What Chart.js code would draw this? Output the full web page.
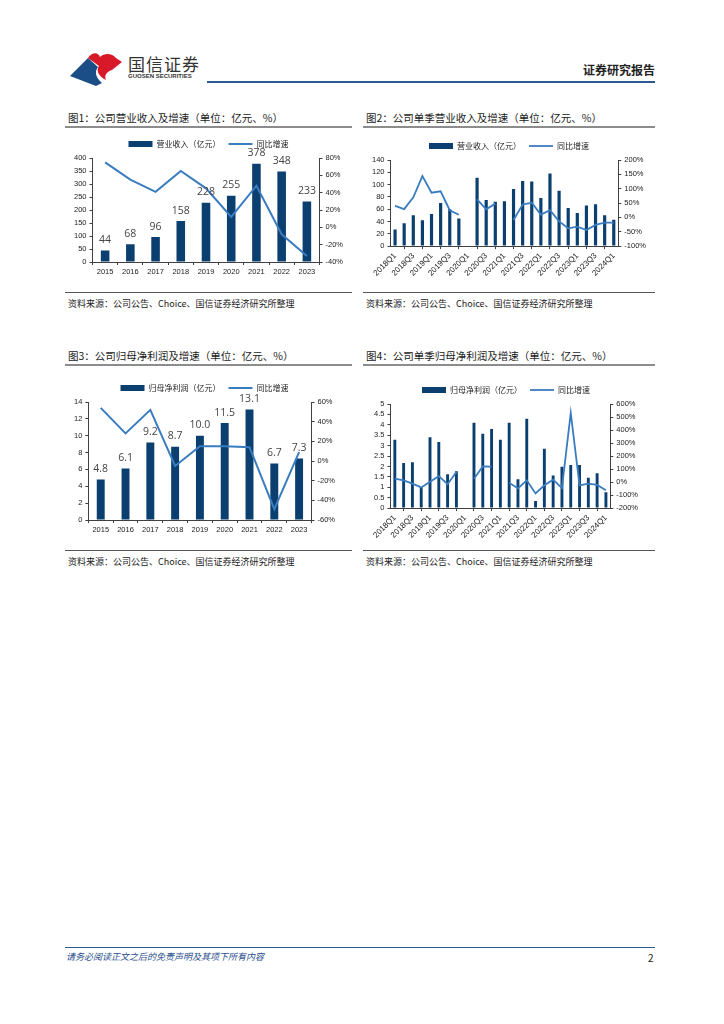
<!DOCTYPE html>
<html><head><meta charset="utf-8">
<script src="https://cdn.jsdelivr.net/npm/chart.js@4/dist/chart.umd.min.js"></script>
<style>
html,body{margin:0;padding:0;background:#fff;}
body{width:724px;height:1024px;position:relative;overflow:hidden;font-family:"Noto Sans CJK SC","Noto Sans",sans-serif;color:#222;}
.abs{position:absolute;}
.title{font-size:10.5px;white-space:nowrap;color:#1a1a1a;}
.uline{height:2px;background:#8c8c8c;}
.bline{height:1px;background:#555;}
.src{font-size:9px;white-space:nowrap;color:#222;}
canvas{position:absolute;}
</style></head><body>
<!-- header -->
<svg class="abs" style="left:68px;top:50px" width="60" height="36" viewBox="0 0 60 36">
  <path d="M2 26 L20 8 L30 17 C26 22 28 28 34 33 L28 36 Z" fill="#1b4e86"/>
  <path d="M20 8 C24 2 30 2 32 7 C36 3 44 3 48 8 L54 12 L44 20 C38 22 36 26 38 30 C30 26 28 20 31 16 Z" fill="#d7192a"/>
</svg>
<div class="abs" style="left:128px;top:51px;font-size:17px;letter-spacing:1px;color:#333;">国信证券</div>
<div class="abs" style="left:128px;top:73px;font-size:6px;color:#333;font-family:'Liberation Sans',sans-serif;font-weight:bold;">GUOSEN SECURITIES</div>
<div class="abs" style="left:207px;top:81px;width:448px;height:2px;background:#2b5a92;"></div>
<div class="abs" style="right:69px;top:61px;font-size:12px;font-weight:bold;color:#222;">证券研究报告</div>

<!-- panel titles -->
<div class="abs title" style="left:68px;top:110px;">图1：公司营业收入及增速（单位：亿元、%）</div>
<div class="abs uline" style="left:65px;top:126px;width:287px;"></div>
<div class="abs title" style="left:366px;top:110px;">图2：公司单季营业收入及增速（单位：亿元、%）</div>
<div class="abs uline" style="left:363px;top:126px;width:292px;"></div>
<div class="abs bline" style="left:65px;top:292px;width:287px;"></div>
<div class="abs bline" style="left:363px;top:292px;width:292px;"></div>
<div class="abs src" style="left:68px;top:297px;">资料来源：公司公告、Choice、国信证券经济研究所整理</div>
<div class="abs src" style="left:366px;top:297px;">资料来源：公司公告、Choice、国信证券经济研究所整理</div>

<div class="abs title" style="left:68px;top:348px;">图3：公司归母净利润及增速（单位：亿元、%）</div>
<div class="abs uline" style="left:65px;top:364px;width:287px;"></div>
<div class="abs title" style="left:366px;top:348px;">图4：公司单季归母净利润及增速（单位：亿元、%）</div>
<div class="abs uline" style="left:363px;top:364px;width:292px;"></div>
<div class="abs bline" style="left:65px;top:550px;width:287px;"></div>
<div class="abs bline" style="left:363px;top:550px;width:292px;"></div>
<div class="abs src" style="left:68px;top:555px;">资料来源：公司公告、Choice、国信证券经济研究所整理</div>
<div class="abs src" style="left:366px;top:555px;">资料来源：公司公告、Choice、国信证券经济研究所整理</div>

<!-- footer -->
<div class="abs" style="left:65px;top:947px;width:590px;height:1px;background:#2b5a92;"></div>
<div class="abs" style="left:66px;top:950px;font-size:9px;font-style:italic;color:#2b4f8c;">请务必阅读正文之后的免责声明及其项下所有内容</div>
<div class="abs" style="left:648px;top:950px;font-size:10px;color:#222;">2</div>

<canvas id="c1" style="left:65px;top:132px;width:287px;height:146px;" width="287" height="146"></canvas>
<canvas id="c2" style="left:363px;top:132px;width:292px;height:148px;" width="292" height="148"></canvas>
<canvas id="c3" style="left:65px;top:372px;width:287px;height:164px;" width="287" height="164"></canvas>
<canvas id="c4" style="left:363px;top:372px;width:292px;height:170px;" width="292" height="170"></canvas>

<script>
// ---- data ----
const years = ['2015','2016','2017','2018','2019','2020','2021','2022','2023'];
const revenue = [44, 68, 96, 158, 228, 255, 378, 348, 233];
const revenueYoY = [75, 55, 41, 65, 45, 12, 48, -8, -33];

const quarters = ['2018Q1','2018Q2','2018Q3','2018Q4','2019Q1','2019Q2','2019Q3','2019Q4',
  '2020Q1','2020Q2','2020Q3','2020Q4','2021Q1','2021Q2','2021Q3','2021Q4',
  '2022Q1','2022Q2','2022Q3','2022Q4','2023Q1','2023Q2','2023Q3','2023Q4','2024Q1'];
const qRevenue = [27, 37, 50, 42, 52, 70, 60, 45, null, 111, 75, 72, 73, 93, 106, 105, 78, 118, 90, 62, 54, 66, 68, 50, 43];
const qRevenueYoY = [40, 29, 70, 144, 86, 91, 25, 9, null, 63, 28, 48, null, -9, 45, 51, 10, 25, -14, -38, -32, -44, -26, -18, -18];

const netProfit = [4.8, 6.1, 9.2, 8.7, 10.0, 11.5, 13.1, 6.7, 7.3];
const netProfitYoY = [54, 28, 52, -5, 15, 15, 14, -49, 9];

const qProfit = [3.28, 2.17, 2.2, 1.0, 3.4, 3.18, 1.62, 1.77, null, 4.1, 3.57, 3.8, 3.28, 4.1, 1.38, 4.29, 0.34, 2.85, 1.57, 1.99, 2.07, 2.07, 1.46, 1.67, 0.76];
const qProfitYoY = [26, 13, -12, -41, 2, 45, -17, 77, null, 26, 120, 118, null, -6, -49, 13, -87, -25, 18, -47, 532, -25, -12, -22, -63];

// ---- style ----
const BAR = '#0b3f70';
const LINE = '#3a7cc0';
const TICKFONT = {family: "'Liberation Sans', 'DejaVu Sans', sans-serif", size: 7.5};
const ROTFONT = {family: "'Liberation Sans', 'DejaVu Sans', sans-serif", size: 8};
const AXIS = '#404040';

const valueLabels = {
  id: 'valueLabels',
  afterDatasetsDraw(chart, args, opts) {
    if (!opts.enabled) return;
    const ctx = chart.ctx;
    const meta = chart.getDatasetMeta(0);
    const data = chart.data.datasets[0].data;
    ctx.save();
    ctx.fillStyle = '#444';
    ctx.font = "10.5px 'Open Sans', 'DejaVu Sans', sans-serif";
    ctx.textAlign = 'center';
    ctx.textBaseline = 'bottom';
    meta.data.forEach((el, i) => {
      if (data[i] == null) return;
      ctx.fillText(opts.fmt(data[i]), el.x, el.y - 5);
    });
    ctx.restore();
  }
};

function makeChart(id, labels, bars, line, barName, left, right, opts) {
  const xTicks = {font: TICKFONT, color: '#222', autoSkip: false, padding: 2};
  if (opts.rotate) {
    xTicks.font = ROTFONT;
    xTicks.maxRotation = 45; xTicks.minRotation = 45;
    xTicks.callback = function(v, i) { return i % 2 === 0 ? this.getLabelForValue(v) : null; };
  } else {
    xTicks.maxRotation = 0;
  }
  return new Chart(document.getElementById(id), {
    data: {
      labels: labels,
      datasets: [
        {type: 'bar', label: barName, data: bars, backgroundColor: BAR, borderWidth: 0,
         barPercentage: opts.barPct, categoryPercentage: 1, yAxisID: 'y', order: 2, pointStyle: 'rect'},
        {type: 'line', label: '同比增速', data: line, borderColor: LINE, backgroundColor: LINE,
         borderWidth: opts.lw || 1.8, pointRadius: 0, tension: 0, spanGaps: false,
         yAxisID: 'y1', order: 1, pointStyle: 'line'}
      ]
    },
    options: {
      responsive: false, animation: false, devicePixelRatio: 1,
      layout: {padding: opts.padding},
      plugins: {
        legend: {position: 'top', labels: {usePointStyle: true, pointStyleWidth: 24, boxHeight: 6,
          font: {family: "'Noto Sans CJK SC', sans-serif", size: 8}, color: '#222', padding: 8,
          sort: (a, b) => a.datasetIndex - b.datasetIndex}},
        tooltip: {enabled: false},
        valueLabels: {enabled: !!opts.fmt, fmt: opts.fmt}
      },
      scales: {
        x: {grid: {display: true, drawOnChartArea: false, drawTicks: true, tickLength: 3, color: AXIS, offset: true},
            border: {display: true, color: AXIS, width: 1}, ticks: xTicks},
        y: {position: 'left', min: left[0], max: left[1],
            ticks: {stepSize: left[2], autoSkip: false, font: TICKFONT, color: '#222', padding: 3, callback: v => String(v)},
            grid: {drawOnChartArea: false, drawTicks: true, tickLength: 3, color: AXIS},
            border: {display: true, color: AXIS, width: 1}},
        y1: {position: 'right', min: right[0], max: right[1],
            ticks: {stepSize: right[2], autoSkip: false, font: TICKFONT, color: '#222', padding: 3, callback: v => v + '%'},
            grid: {drawOnChartArea: false, drawTicks: true, tickLength: 3, color: AXIS},
            border: {display: true, color: AXIS, width: 1}}
      }
    },
    plugins: [valueLabels]
  });
}

makeChart('c1', years, revenue, revenueYoY, '营业收入（亿元）', [0, 400, 50], [-40, 80, 20],
  {barPct: 0.34, fmt: v => String(v), padding: {left: 6, right: 6, top: 0, bottom: 0}, lw: 2});
makeChart('c2', quarters, qRevenue, qRevenueYoY, '营业收入（亿元）', [0, 140, 20], [-100, 200, 50],
  {barPct: 0.35, rotate: true, padding: {left: 6, right: 6, top: 2, bottom: 0}, lw: 1.8});
makeChart('c3', years, netProfit, netProfitYoY, '归母净利润（亿元）', [0, 14, 2], [-60, 60, 20],
  {barPct: 0.32, fmt: v => v.toFixed(1), padding: {left: 6, right: 14, top: 4, bottom: 0}, lw: 2});
makeChart('c4', quarters, qProfit, qProfitYoY, '归母净利润（亿元）', [0, 5, 0.5], [-200, 600, 100],
  {barPct: 0.33, rotate: true, padding: {left: 8, right: 14, top: 6, bottom: 0}, lw: 1.8});
</script>
</body></html>
